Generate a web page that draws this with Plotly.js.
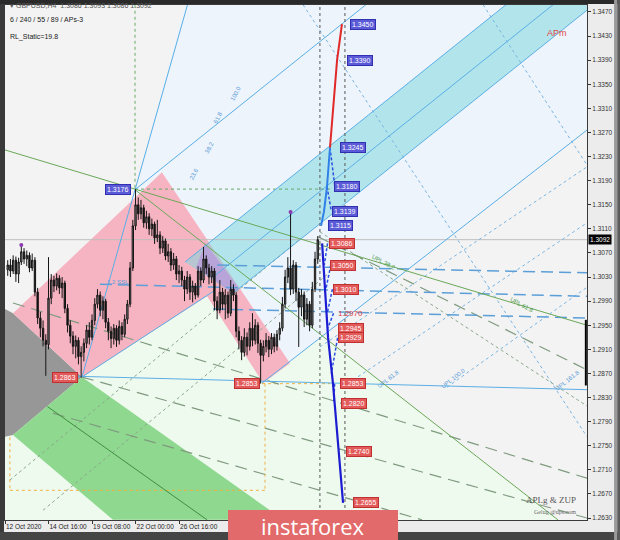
<!DOCTYPE html>
<html><head><meta charset="utf-8">
<script src="https://cdn.plot.ly/plotly-3.0.1.min.js"></script>
<style>html,body{margin:0;padding:0;background:#e8e8e8;}#chart{width:620px;height:540px;}</style>
</head><body><div id="chart"></div>
<script>
// ---- candle data (GBPUSD H4, bar index from 12 Oct 2020 00:00) ----
const openP = [1.3042,1.3050,1.3040,1.3058,1.3035,1.3055,1.3072,1.3060,1.3066,1.3045,
 1.3058,1.3005,1.2962,1.2945,1.2925,1.2918,1.2995,1.3025,1.3015,1.3028,
 1.3012,1.3020,1.2978,1.2950,1.2932,1.2915,1.2925,1.2898,1.2905,1.2920,
 1.2942,1.2930,1.2958,1.2985,1.3000,1.2975,1.2990,1.2955,1.2940,1.2928,
 1.2945,1.2925,1.2948,1.2935,1.2960,1.2985,1.3045,1.3115,1.3150,1.3135,
 1.3145,1.3120,1.3130,1.3110,1.3118,1.3095,1.3100,1.3078,1.3090,1.3065,
 1.3072,1.3050,1.3060,1.3035,1.3040,1.3025,1.3010,1.3030,1.3005,1.3015,
 1.3000,1.3040,1.3025,1.3060,1.3045,1.3030,1.3040,1.2990,1.2975,1.3005,
 1.2985,1.3000,1.2970,1.3010,1.3000,1.2940,1.2925,1.2905,1.2930,1.2915,
 1.2945,1.2925,1.2950,1.2920,1.2900,1.2915,1.2925,1.2910,1.2930,1.2915,
 1.2935,1.2945,1.2985,1.3030,1.3045,1.3010,1.3050,1.3005,1.2980,1.3000,
 1.2960,1.2985,1.2950,1.3010,1.3060];
const highP = [1.3058,1.3060,1.3066,1.3064,1.3062,1.3083,1.3078,1.3074,1.3071,1.3069,
 1.3063,1.3012,1.2972,1.2958,1.2935,1.3063,1.3035,1.3032,1.3036,1.3033,
 1.3030,1.3024,1.2985,1.2958,1.2940,1.2933,1.2930,1.2915,1.2928,1.2950,
 1.2955,1.2968,1.2995,1.3010,1.3006,1.2998,1.2994,1.2962,1.2948,1.2952,
 1.2950,1.2958,1.2955,1.2968,1.2992,1.3055,1.3125,1.3176,1.3162,1.3158,
 1.3150,1.3140,1.3136,1.3127,1.3122,1.3125,1.3106,1.3098,1.3094,1.3085,
 1.3078,1.3070,1.3065,1.3050,1.3047,1.3032,1.3040,1.3035,1.3024,1.3020,
 1.3048,1.3046,1.3080,1.3066,1.3052,1.3048,1.3045,1.2998,1.3025,1.3012,
 1.3010,1.3006,1.3025,1.3018,1.3005,1.2948,1.2932,1.2945,1.2938,1.2955,
 1.2970,1.2960,1.2955,1.2926,1.2925,1.2937,1.2932,1.2937,1.2936,1.2942,
 1.2955,1.2997,1.3042,1.3063,1.3138,1.3058,1.3055,1.3012,1.3010,1.3006,
 1.2995,1.2990,1.3022,1.3072,1.3098];
const lowP = [1.3032,1.3030,1.3035,1.3022,1.3020,1.3050,1.3052,1.3048,1.3038,1.3040,
 1.2998,1.2952,1.2930,1.2915,1.2866,1.2910,1.2985,1.3005,1.3008,1.3002,
 1.2995,1.2970,1.2938,1.2920,1.2902,1.2895,1.2885,1.2863,1.2890,1.2912,
 1.2918,1.2925,1.2950,1.2978,1.2965,1.2960,1.2945,1.2925,1.2912,1.2918,
 1.2914,1.2918,1.2925,1.2930,1.2952,1.2980,1.3040,1.3108,1.3125,1.3126,
 1.3112,1.3110,1.3100,1.3098,1.3085,1.3088,1.3068,1.3070,1.3058,1.3055,
 1.3040,1.3042,1.3025,1.3020,1.3015,1.2990,1.3002,1.2992,1.2988,1.2993,
 1.2996,1.3015,1.3020,1.3035,1.3018,1.3020,1.2975,1.2960,1.2970,1.2975,
 1.2960,1.2962,1.2965,1.2990,1.2930,1.2910,1.2892,1.2898,1.2900,1.2908,
 1.2915,1.2918,1.2904,1.2853,1.2890,1.2905,1.2897,1.2902,1.2905,1.2908,
 1.2925,1.2940,1.2978,1.3020,1.3000,1.3002,1.2990,1.2914,1.2965,1.2947,
 1.2950,1.2940,1.2945,1.3005,1.3052];
const closeP = [1.3050,1.3040,1.3058,1.3035,1.3055,1.3072,1.3060,1.3066,1.3045,1.3058,
 1.3005,1.2962,1.2945,1.2925,1.2918,1.2995,1.3025,1.3015,1.3028,1.3012,
 1.3020,1.2978,1.2950,1.2932,1.2915,1.2925,1.2898,1.2905,1.2920,1.2942,
 1.2930,1.2958,1.2985,1.3000,1.2975,1.2990,1.2955,1.2940,1.2928,1.2945,
 1.2925,1.2948,1.2935,1.2960,1.2985,1.3045,1.3115,1.3150,1.3135,1.3145,
 1.3120,1.3130,1.3110,1.3118,1.3095,1.3100,1.3078,1.3090,1.3065,1.3072,
 1.3050,1.3060,1.3035,1.3040,1.3025,1.3010,1.3030,1.3005,1.3015,1.3000,
 1.3040,1.3025,1.3060,1.3045,1.3030,1.3040,1.2990,1.2975,1.3005,1.2985,
 1.3000,1.2970,1.3010,1.3000,1.2940,1.2925,1.2905,1.2930,1.2915,1.2945,
 1.2925,1.2950,1.2920,1.2900,1.2915,1.2925,1.2910,1.2930,1.2915,1.2935,
 1.2945,1.2985,1.3030,1.3045,1.3010,1.3050,1.3005,1.2980,1.3000,1.2960,
 1.2985,1.2950,1.3010,1.3060,1.3092];

const dateTickBars = [0, 16, 32, 48, 64];
const dateTickText = ['12 Oct 2020', '14 Oct 16:00', '19 Oct 08:00', '22 Oct 00:00', '26 Oct 16:00'];
const lastPrice = 1.3092;

// forecast targets
const upTargets = [1.3115, 1.3139, 1.3180, 1.3245, 1.3390, 1.3450];
const downTargets = [1.3086, 1.3050, 1.3010, 1.2970, 1.2945, 1.2929, 1.2853, 1.2820, 1.2740, 1.2655];
const upPathBars = [116.2, 117.3, 118.4, 119.5];
const upPathPrices = [1.3115, 1.3139, 1.3180, 1.3245];
const redPathBars = [119.5, 122.1, 123.9];
const redPathPrices = [1.3245, 1.3390, 1.3450];
const downPathBars = [116.6, 118.8, 120.6, 124.3];
const downPathPrices = [1.3086, 1.2929, 1.2853, 1.2655];
const dashSegBars = [[119.5,121.3],[118.4,120.0],[118.6,117.4],[119.8,118.0],[120.4,118.5],[120.8,118.7],[122.3,120.0],[121.2,120.9]];
const dashSegPrices = [[1.3245,1.3180],[1.3180,1.3139],[1.3086,1.3050],[1.3050,1.3010],[1.3010,1.2970],[1.2970,1.2945],[1.2929,1.2870],[1.2853,1.2820]];

// pivots
const pivotText = ['1.2863', '1.3176', '1.2853'];
const pivotBars = [28.3, 47.8, 94.5];
const pivotPrices = [1.2863, 1.3176, 1.2853];
const fractalBars = [6, 105];
const fractalPrices = [1.3083, 1.3138];

// drawing objects (bar, price)
const lightBluePoly = [[66.2,1.3482],[214,1.3482],[214,1.3274],[94.5,1.2854],[47.8,1.3175]];
const lightGreenPoly = [[28.3,1.2864],[74.3,1.2998],[94.9,1.2854],[116.6,1.2932],[203.3,1.2627],[0,1.2627],[0,1.2864]];
const grayPoly = [[0,1.2977],[2.94,1.2970],[28.3,1.2864],[2.94,1.2768],[0,1.2765]];
const greenBandPoly = [[28.3,1.2864],[97.4,1.2643],[94.5,1.2627],[39.7,1.2627],[2.94,1.2768]];
const pinkPoly = [[2.94,1.2970],[57.7,1.3204],[104.8,1.2887],[94.9,1.2854],[74.3,1.2998],[28.3,1.2864]];
const cyanPoly = [[66.2,1.3055],[184.2,1.3482],[214,1.3482],[214,1.3473],[83.8,1.3003]];
const purplePoly = [[73.6,1.3087],[86.0,1.3012],[83.8,1.3003],[70.2,1.3045]];

const cyanUpper = [[66.2,1.3055],[184.2,1.3482]];
const cyanMid = [[76.5,1.3030],[201.5,1.3482]];
const cyanLower = [[83.8,1.3003],[214,1.3473]];
const steepAB = [[28.3,1.2864],[67.1,1.3482]];
const lineFromB = [[47.8,1.3175],[132.7,1.3482]];
const lineFromC = [[94.5,1.2854],[214,1.3274]];
const lineFromA = [[28.3,1.2864],[77.2,1.3008]];
const flatFromA = [[20,1.2866],[214,1.2843]];
const greenMain = [[0,1.3241],[214,1.2950]];
const greenFromB = [[47.8,1.3175],[203.3,1.2627]];
const greenBandMid = [[15.6,1.2815],[74.3,1.2627]];
const dashBlue1 = [[78.0,1.3050],[214,1.3037]];
const dashBlue2 = [[34.9,1.3018],[214,1.2998]];
const dashBlue3 = [[76.5,1.2977],[214,1.2962]];
const dashGreen1 = [[2.94,1.2987],[214,1.2696]];
const dashGreen2 = [[17.6,1.2804],[153.3,1.2627]];
const dashGreen3 = [[115.1,1.3097],[214,1.2876]];
const dashGreen4 = [[28.3,1.2864],[214,1.2630]];
const dotBlue1 = [[109.6,1.3482],[214,1.2765]];
const dotBlue2 = [[175.8,1.3482],[214,1.3216]];
const dotUp1 = [[115.8,1.2914],[214,1.3213]];
const dotUp2 = [[128,1.2859],[214,1.3120]];
const dotUp3 = [[162.5,1.2847],[214,1.3013]];
const dotGreen1 = [[14.0,1.2643],[119.5,1.3038]];
const dotGreen2 = [[1.8,1.2693],[108.5,1.3093]];
const dotGreen3 = [[115.8,1.3105],[214,1.2816]];
const vDotBars = [115.8, 125];
const greenDotV = [[47.8,1.3482],[47.8,1.3176]];
const greenDotH = [[47.8,1.3176],[119.5,1.3176]];
const orangeDot = [[[94.5,1.2853],[119.5,1.2853]],[[95.6,1.2853],[95.6,1.2676]],[[1.8,1.2676],[95.6,1.2676]],[[1.8,1.2764],[1.8,1.2676]]];

const X0 = 0, X1 = 214, Y0 = 1.26267, Y1 = 1.34816;
const bars = closeP.map((_, i) => i + 1);

const shapes = [];
const pathOf = pts => 'M' + pts.map(p => p[0] + ',' + p[1]).join('L') + 'Z';
function fill(pts, color) {
  shapes.push({type:'path', xref:'x', yref:'y', path:pathOf(pts), fillcolor:color, line:{width:0}, layer:'below'});
}
function seg(pts, color, width, dash, layer) {
  shapes.push({type:'line', xref:'x', yref:'y', x0:pts[0][0], y0:pts[0][1], x1:pts[1][0], y1:pts[1][1],
    line:{color:color, width:width, dash:dash || 'solid'}, layer: layer || 'below'});
}
fill(lightBluePoly, '#edf4fb');
fill(lightGreenPoly, '#effaef');
fill(grayPoly, '#979797');
fill(greenBandPoly, '#8fd88f');
fill(pinkPoly, '#f6b4c2');
fill(cyanPoly, 'rgba(125,214,220,0.52)');
fill(purplePoly, '#b9a4da');

seg([[X0,lastPrice],[X1,lastPrice]], '#bdbdbd', 1);
seg(greenDotV, '#66aa66', 1, 'dot');
seg(greenDotH, '#66aa66', 1, 'dot');
orangeDot.forEach(p => seg(p, '#f0b040', 1, 'dot'));
[dotBlue1, dotBlue2, dotUp1, dotUp2, dotUp3].forEach(p => seg(p, '#7ab4e2', 1, 'dot'));
[dotGreen1, dotGreen2, dotGreen3].forEach(p => seg(p, '#8aa88a', 1, 'dot'));
[dashGreen1, dashGreen2, dashGreen3, dashGreen4].forEach(p => seg(p, '#7f9a7f', 1.2, '12px,7px'));
[dashBlue1, dashBlue2, dashBlue3].forEach(p => seg(p, '#5c9fd8', 1.5, '12px,6px'));
[cyanUpper, cyanMid, cyanLower, steepAB, lineFromB, lineFromC, lineFromA, flatFromA].forEach(p => seg(p, '#5aaee6', 1));
seg(greenMain, '#6aa858', 1);
seg(greenFromB, '#6aa858', 1);
seg(greenBandMid, '#3f8f3f', 1);
vDotBars.forEach(b => seg([[b,Y0],[b,Y1]], '#555555', 1, 'dot'));

// frame (paper)
const P = (x0,y0,x1,y1,c,layer) => shapes.push({type:'rect', xref:'paper', yref:'paper', x0, y0, x1, y1, fillcolor:c, line:{width:0}, layer: layer || 'above'});
P(-0.0090,-0.040,-0.0017,1.012,'#3a3a3a');
P(-0.0090,1.0019,1.060,1.012,'#2a2a2a');
P(-0.0090,-0.040,1.060,-0.0235,'#454545');
P(1.0465,-0.040,1.0520,1.012,'#9a9a9a');
P(1.0520,-0.040,1.060,1.012,'#5c5c5c');
shapes.push({type:'line', xref:'paper', yref:'y', x0:0.998, x1:0.998, y0:1.2959, y1:1.2850, line:{color:'#000', width:2}, layer:'above'});
// banner
P(0.3832,-0.040,0.6753,0.0194,'#e36a6a');

const traces = [];
traces.push({type:'candlestick', x:bars, open:openP, high:highP, low:lowP, close:closeP,
  increasing:{line:{color:'#151515', width:1}, fillcolor:'#8a8a8a'},
  decreasing:{line:{color:'#151515', width:1}, fillcolor:'#151515'},
  whiskerwidth:0, hoverinfo:'skip', showlegend:false});
traces.push({type:'scatter', mode:'markers', x:fractalBars, y:fractalPrices, marker:{color:'#8a3cb0', size:4}, hoverinfo:'skip', showlegend:false});
const dx = [], dy = [];
dashSegBars.forEach((b, i) => { dx.push(b[0], b[1], null); dy.push(dashSegPrices[i][0], dashSegPrices[i][1], null); });
traces.push({type:'scatter', mode:'lines', x:dx, y:dy, line:{color:'#2a4ee0', width:1.5, dash:'3px,2px'}, hoverinfo:'skip', showlegend:false});
traces.push({type:'scatter', mode:'lines', x:downPathBars, y:downPathPrices, line:{color:'#1c1cd0', width:2.2}, hoverinfo:'skip', showlegend:false});
traces.push({type:'scatter', mode:'lines', x:upPathBars, y:upPathPrices, line:{color:'#2f80e8', width:2}, hoverinfo:'skip', showlegend:false});
traces.push({type:'scatter', mode:'lines', x:redPathBars, y:redPathPrices, line:{color:'#e02828', width:2}, hoverinfo:'skip', showlegend:false});

// annotations
const ann = [];
const upLabelBars = [118.8, 120.2, 121.0, 123.2, 125.8, 126.9];
const downLabelBars = [119.1, 119.5, 120.6, 121.7, 122.4, 122.4, 123.2, 123.5, 125.4, 128.0];
const boxFont = {family:'Liberation Sans, Arial, sans-serif', size:7, color:'#ffffff'};
upTargets.forEach((v, i) => ann.push({xref:'x', yref:'y', x:upLabelBars[i], y:v, text:v.toFixed(4), showarrow:false, xanchor:'left', yanchor:'middle',
  bgcolor:'#5b5bd8', bordercolor:'#3030b0', borderwidth:1, borderpad:1, font:boxFont}));
downTargets.forEach((v, i) => {
  if (v === 1.2970) {
    ann.push({xref:'x', yref:'y', x:downLabelBars[i], y:v, text:v.toFixed(4), showarrow:false, xanchor:'left', yanchor:'middle',
      font:{family:'Liberation Sans, Arial, sans-serif', size:8, color:'#e04040'}});
  } else {
    ann.push({xref:'x', yref:'y', x:downLabelBars[i], y:v, text:v.toFixed(4), showarrow:false, xanchor:'left', yanchor:'middle',
      bgcolor:'#e35a5a', bordercolor:'#c03030', borderwidth:1, borderpad:1, font:boxFont});
  }
});
const pivotLabelBars = [26.8, 46.3, 93.8];
pivotText.forEach((t, i) => ann.push({xref:'x', yref:'y', x:pivotLabelBars[i], y:pivotPrices[i], text:t, showarrow:false, xanchor:'right', yanchor:'middle',
  bgcolor: i === 1 ? '#5b5bd8' : '#e35a5a', bordercolor: i === 1 ? '#3030b0' : '#c03030', borderwidth:1, borderpad:1, font:boxFont}));

const smallBlue = {family:'Liberation Sans, Arial, sans-serif', size:6, color:'#5a9ad8'};
const smallGreen = {family:'Liberation Sans, Arial, sans-serif', size:6, color:'#4c9a4c'};
const tl = (x, y, text, font, angle) => ann.push({xref:'x', yref:'y', x, y, text, font, textangle:angle, showarrow:false});
tl(141.0, 1.2860, 'UPL 61.8', smallBlue, -38);
tl(165.0, 1.2862, 'UPL 100.0', smallBlue, -38);
tl(207.0, 1.2859, 'UPL 161.8', smallBlue, -38);
tl(139.0, 1.3055, 'UPL 38.2', smallGreen, 28);
tl(190.0, 1.2983, 'UPL 61.8', smallGreen, 28);
tl(41.5, 1.3022, '1.2 SSL', smallBlue, 0);
tl(69.5, 1.3201, '23.6', smallBlue, -62);
tl(75.0, 1.3245, '38.2', smallBlue, -62);
tl(78.5, 1.3295, '61.8', smallBlue, -62);
tl(85.0, 1.3335, '100.0', smallBlue, -62);

const hdr = {family:'Liberation Sans, Arial, sans-serif', size:7, color:'#555'};
ann.push({xref:'paper', yref:'paper', x:0.006, y:1.0, xanchor:'left', yanchor:'middle', showarrow:false, text:'▾ GBPUSD,H4  1.3086 1.3093 1.3086 1.3092', font:hdr});
ann.push({xref:'paper', yref:'paper', x:0.006, y:0.971, xanchor:'left', yanchor:'middle', showarrow:false, text:'6 / 240 / 55 / 89 / APs-3', font:{...hdr, color:'#222'}});
ann.push({xref:'paper', yref:'paper', x:0.006, y:0.938, xanchor:'left', yanchor:'middle', showarrow:false, text:'RL_Static=19.8', font:{...hdr, color:'#222'}});
ann.push({xref:'paper', yref:'paper', x:0.928, y:0.945, xanchor:'left', yanchor:'middle', showarrow:false, text:'APm', font:{family:'Liberation Sans, Arial, sans-serif', size:9, color:'#e04848'}});
ann.push({xref:'paper', yref:'paper', x:0.985, y:0.039, xanchor:'right', yanchor:'middle', showarrow:false, text:'APLg &amp; ZUP', font:{family:'Liberation Serif, serif', size:9, color:'#555'}});
ann.push({xref:'paper', yref:'paper', x:0.985, y:0.015, xanchor:'right', yanchor:'middle', showarrow:false, text:'Gelug @ups.com', font:{family:'Liberation Serif, serif', size:6, color:'#666'}});
ann.push({xref:'paper', yref:'y', x:1.001, y:lastPrice, xanchor:'left', yanchor:'middle', showarrow:false, text:lastPrice.toFixed(4), bgcolor:'#000', borderpad:1, font:{family:'Liberation Sans, Arial, sans-serif', size:6.5, color:'#fff'}});
ann.push({xref:'paper', yref:'paper', x:0.5292, y:-0.011, xanchor:'center', yanchor:'middle', showarrow:false, text:'instaforex', font:{family:'Open Sans, sans-serif', size:22, color:'#ffffff'}});

const layout = {
  width:620, height:540, margin:{l:5, r:33, t:5, b:20},
  paper_bgcolor:'#ececec', plot_bgcolor:'#f3f3f3',
  font:{family:'Liberation Sans, Arial, sans-serif', size:7, color:'#333'},
  showlegend:false,
  xaxis:{type:'linear', range:[X0, X1], tickvals:dateTickBars, ticktext:dateTickText, ticks:'outside', ticklen:3, tickcolor:'#333',
    ticklabelposition:'outside right', tickangle:0, tickfont:{size:6.5, color:'#222'}, showgrid:false, zeroline:false, showline:true, mirror:true,
    linecolor:'#3a3a3a', rangeslider:{visible:false}, fixedrange:true, automargin:false},
  yaxis:{range:[Y0, Y1], side:'right', tick0:1.263, dtick:0.004, tickformat:'.4f', ticks:'outside', ticklen:3, tickcolor:'#333',
    tickfont:{size:6.5, color:'#333'}, showgrid:false, zeroline:false, showline:true, mirror:true, linecolor:'#3a3a3a', fixedrange:true, automargin:false},
  shapes, annotations:ann
};
Plotly.newPlot('chart', traces, layout, {displayModeBar:false, staticPlot:true});
</script></body></html>
